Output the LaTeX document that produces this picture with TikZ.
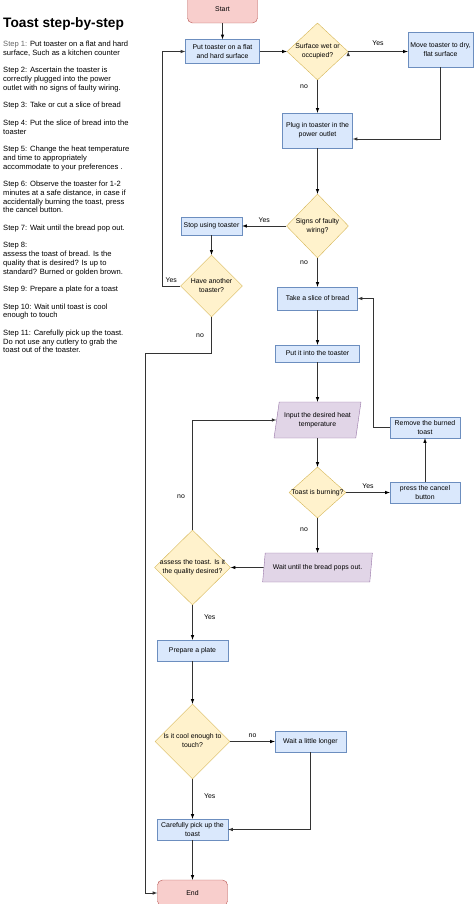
\documentclass[tikz,border=0pt]{standalone}
\usepackage{fontspec}
\setmainfont{Liberation Sans}
\usetikzlibrary{shapes.geometric}

\definecolor{termfill}{HTML}{F8CECC}
\definecolor{termline}{HTML}{B85450}
\definecolor{procfill}{HTML}{DAE8FC}
\definecolor{procline}{HTML}{6C8EBF}
\definecolor{decfill}{HTML}{FFF2CC}
\definecolor{decline}{HTML}{D6B656}
\definecolor{iofill}{HTML}{E1D5E7}
\definecolor{ioline}{HTML}{9673A6}

% text of a diamond, kept out of the shape's size
\newcommand{\dlines}[1]{\makebox[0pt]{\begin{tabular}{@{}c@{}}#1\end{tabular}}}

\tikzset{>=latex}

\begin{document}
\begin{tikzpicture}[x=1pt, y=-1pt, font={\fontsize{6.9}{9}\selectfont}]

	\tikzstyle{box_terminal} = [rectangle, rounded corners=5pt, draw=termline, fill=termfill, inner sep=1pt]
	\tikzstyle{box_process}  = [rectangle, draw=procline, fill=procfill, align=center, inner sep=1pt]
	\tikzstyle{box_decision} = [diamond, draw=decline, fill=decfill, inner sep=0pt]
	\tikzstyle{box_io}       = [trapezium, trapezium left angle=75, trapezium right angle=105, trapezium stretches=true, draw=ioline, fill=iofill, align=center, inner sep=1pt]
	\tikzstyle{flow_arrow}   = [-latex, draw=black!80, line width=0.6pt]

	\useasboundingbox (0,0) rectangle (474,904);

%------------------------------------------------------------
	\node[anchor=base west, inner sep=0pt, font={\fontsize{13.7}{16}\selectfont\bfseries}] (title) at (3,27.5) {Toast step-by-step};

	\node[anchor=north west, inner sep=0pt, align=left, font={\fontsize{7.6}{8.75}\selectfont}] (steps) at (3,41) {%
		\textcolor{black!60}{Step 1:} Put toaster on a flat and hard\\surface, Such as a kitchen counter\\[8.75pt]
		Step 2: Ascertain the toaster is\\correctly plugged into the power\\outlet with no signs of faulty wiring.\\[8.75pt]
		Step 3: Take or cut a slice of bread\\[8.75pt]
		Step 4: Put the slice of bread into the\\toaster\\[8.75pt]
		Step 5: Change the heat temperature\\and time to appropriately\\accommodate to your preferences .\\[8.75pt]
		Step 6: Observe the toaster for 1-2\\minutes at a safe distance, in case if\\accidentally burning the toast, press\\the cancel button.\\[8.75pt]
		Step 7: Wait until the bread pop out.\\[8.75pt]
		Step 8:\\assess the toast of bread. Is the\\quality that is desired? Is up to\\standard? Burned or golden brown.\\[8.75pt]
		Step 9: Prepare a plate for a toast\\[8.75pt]
		Step 10: Wait until toast is cool\\enough to touch\\[8.75pt]
		Step 11: Carefully pick up the toast.\\Do not use any cutlery to grab the\\toast out of the toaster.};

%------------------------------------------------------------
	\node[box_terminal, minimum width=70pt, minimum height=28pt] (start) at (222.5,9) {Start};
	\node[box_process, minimum width=74pt, minimum height=24pt] (put) at (222.5,51.5) {Put toaster on a flat\\and hard surface};
	\node[box_decision, minimum width=61pt, minimum height=57pt] (wet) at (317.5,51.5) {\dlines{Surface wet or\\occupied?}};
	\node[box_process, minimum width=65pt, minimum height=35pt] (move) at (440.5,49.5) {Move toaster to dry,\\flat surface};
	\node[box_process, minimum width=70pt, minimum height=35pt] (plug) at (317.5,130.5) {Plug in toaster in the\\power outlet};

	\path[flow_arrow] (start) edge (put);
	\path[flow_arrow] (put) edge (wet);
	\path[flow_arrow] (wet.east) edge node[above=2pt] {Yes} (wet.east -| move.west);
	\path[flow_arrow] (wet) edge node[pos=0.2, left=6pt] {no} (plug);
	\draw[flow_arrow] (move.south) |- ([yshift=-8.5pt]plug.east);

%------------------------------------------------------------
	\node[box_decision, minimum width=62pt, minimum height=64pt] (faulty) at (317.5,226) {\dlines{Signs of faulty\\wiring?}};
	\node[box_process, minimum width=61pt, minimum height=18pt] (stop) at (211.5,226) {Stop using toaster};
	\node[box_decision, minimum width=62pt, minimum height=62pt] (another) at (211.5,286) {\dlines{Have another\\toaster?}};

	\path[flow_arrow] (plug) edge (faulty);
	\path[flow_arrow] (faulty) edge node[above] {Yes} (stop);
	\path[flow_arrow] (stop) edge (another);
	\draw[flow_arrow] (another.west) -- node[above] {Yes} ++(-18,0) |- (put.west);

%------------------------------------------------------------
	\node[box_process, minimum width=80pt, minimum height=23pt] (slice) at (317.5,298.5) {Take a slice of bread};
	\node[box_process, minimum width=84pt, minimum height=17pt] (insert) at (317.5,353.5) {Put it into the toaster};
	\node[box_io, minimum width=87pt, minimum height=36pt] (heat) at (317.5,420) {Input the desired heat\\temperature};
	\node[box_decision, minimum width=57pt, minimum height=51pt] (burning) at (317.5,492.5) {\dlines{Toast is burning?}};
	\node[box_process, minimum width=70pt, minimum height=21pt] (cancel) at (425,492.5) {press the cancel\\button};
	\node[box_process, minimum width=70pt, minimum height=21pt] (remove) at (425,427.5) {Remove the burned\\toast};

	\path[flow_arrow] (faulty) edge node[pos=0.17, left=6pt] {no} (slice);
	\path[flow_arrow] (slice) edge (insert);
	\path[flow_arrow] (insert) edge (heat);
	\path[flow_arrow] (heat) edge (burning);
	\path[flow_arrow] (burning) edge node[above] {Yes} (cancel);
	\path[flow_arrow] (cancel) edge (remove);
	\draw[flow_arrow] (remove.west) -- ++(-17,0) |- (slice.east);

%------------------------------------------------------------
	\node[box_io, minimum width=110pt, minimum height=29pt] (popout) at (317.5,567.5) {Wait until the bread pops out.};
	\node[box_decision, minimum width=76pt, minimum height=75pt] (assess) at (192.5,567.5) {\dlines{assess the toast. Is it\\the quality desired?}};

	\path[flow_arrow] (burning) edge node[pos=0.34, left=6pt] {no} (popout);
	\path[flow_arrow] (popout) edge (assess);
	\draw[flow_arrow] (assess.north) |- node[pos=0.15, left=4pt] {no} (heat.west);

%------------------------------------------------------------
	\node[box_process, minimum width=71pt, minimum height=21pt] (plate) at (192.5,650.5) {Prepare a plate};
	\node[box_decision, minimum width=75pt, minimum height=75pt] (cool) at (192.5,741.5) {\dlines{Is it cool enough to\\touch?}};
	\node[box_process, minimum width=71pt, minimum height=21pt] (longer) at (310.5,741.5) {Wait a little longer};
	\node[box_process, minimum width=71pt, minimum height=21pt] (pickup) at (192.5,829.5) {Carefully pick up the\\toast};
	\node[box_terminal, minimum width=70pt, minimum height=26pt] (finish) at (192.5,893) {End};

	\path[flow_arrow] (assess) edge node[pos=0.34, right=8pt] {Yes} (plate);
	\path[flow_arrow] (plate) edge (cool);
	\path[flow_arrow] (cool) edge node[above] {no} (longer);
	\path[flow_arrow] (cool) edge node[pos=0.42, right=8pt] {Yes} (pickup);
	\draw[flow_arrow] (longer.south) |- (pickup.east);
	\path[flow_arrow] (pickup) edge (finish);
	\draw[flow_arrow] (another.south) -- node[left=4pt] {no} ++(0,36) -- ++(-66.5,0) |- (finish.west);

\end{tikzpicture}
\end{document}
